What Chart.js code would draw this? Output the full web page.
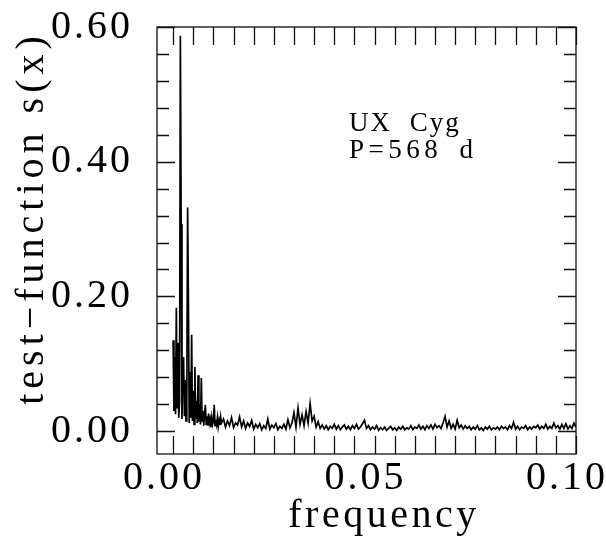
<!DOCTYPE html>
<html lang="en">
<head>
<meta charset="UTF-8">
<title>UX Cyg test-function</title>
<script src="https://cdn.jsdelivr.net/npm/chart.js"></script>
<style>
  html, body { margin: 0; padding: 0; background: #fff; }
</style>
</head>
<body>
<canvas id="spec" width="606" height="541"></canvas>
<script>
// low-frequency part, read every 0.0002
const lowStart = 0.0, lowStep = 0.0002;
const lowPower = [
  0.135, 0.030, 0.110, 0.025, 0.183, 0.035, 0.131, 0.020, 0.045, 0.587,
  0.307, 0.018, 0.095, 0.110, 0.022, 0.076, 0.015, 0.050, 0.332, 0.190,
  0.012, 0.088, 0.020, 0.143, 0.015, 0.060, 0.010, 0.095, 0.018, 0.045,
  0.012, 0.083, 0.014, 0.040, 0.010, 0.079, 0.015, 0.030, 0.008, 0.025,
  0.039, 0.010, 0.022, 0.008, 0.026, 0.012, 0.018, 0.006, 0.020, 0.010,
  0.015, 0.039, 0.008, 0.017, 0.010, 0.020, 0.007, 0.016, 0.009, 0.021,
  0.012
];
// rest of the range, read every 0.0005
const highStart = 0.0125, highStep = 0.0005;
const highPower = [
  0.018, 0.006, 0.015, 0.008, 0.020, 0.005, 0.012, 0.009, 0.021, 0.006,
  0.015, 0.004, 0.012, 0.007, 0.016, 0.003, 0.010, 0.005, 0.011, 0.002,
  0.008, 0.004, 0.018, 0.003, 0.009, 0.005, 0.011, 0.002, 0.007, 0.004,
  0.010, 0.003, 0.017, 0.005, 0.012, 0.027, 0.006, 0.034, 0.010, 0.024,
  0.008, 0.029, 0.012, 0.041, 0.015, 0.022, 0.006, 0.014, 0.004, 0.009,
  0.003, 0.008, 0.002, 0.007, 0.004, 0.010, 0.003, 0.008, 0.002, 0.006,
  0.009, 0.003, 0.007, 0.002, 0.008, 0.004, 0.010, 0.003, 0.006, 0.011,
  0.016, 0.004, 0.008, 0.002, 0.006, 0.003, 0.008, 0.001, 0.005, 0.002,
  0.006, 0.001, 0.004, 0.007, 0.002, 0.005, 0.001, 0.006, 0.003, 0.007,
  0.002, 0.005, 0.003, 0.008, 0.002, 0.006, 0.004, 0.009, 0.003, 0.007,
  0.002, 0.008, 0.004, 0.009, 0.003, 0.010, 0.005, 0.008, 0.004, 0.012,
  0.022, 0.006, 0.015, 0.004, 0.010, 0.003, 0.016, 0.005, 0.009, 0.003,
  0.008, 0.004, 0.007, 0.002, 0.006, 0.003, 0.008, 0.002, 0.005, 0.001,
  0.006, 0.003, 0.007, 0.002, 0.005, 0.003, 0.006, 0.002, 0.007, 0.004,
  0.006, 0.002, 0.008, 0.004, 0.013, 0.003, 0.007, 0.002, 0.006, 0.004,
  0.008, 0.002, 0.006, 0.003, 0.007, 0.005, 0.009, 0.003, 0.007, 0.004,
  0.010, 0.003, 0.007, 0.004, 0.012, 0.005, 0.008, 0.003, 0.010, 0.004,
  0.011, 0.003, 0.008, 0.004, 0.012, 0.006
];
const xTickValues = [0.00, 0.05, 0.10];
const yTickValues = [0.00, 0.20, 0.40, 0.60];
const noteLines = ['UX Cyg', 'P=568 d'];

const points = [];
lowPower.forEach((v, i) => points.push({ x: +(lowStart + i * lowStep).toFixed(5), y: v }));
highPower.forEach((v, i) => points.push({ x: +(highStart + i * highStep).toFixed(5), y: v }));

const serif = '"Liberation Serif", "DejaVu Serif", serif';

// frame, inward ticks on all four sides, titles and the note
const framePlugin = {
  id: 'frame',
  beforeDraw(chart) {
    // wider spacing for the tick numbers, like the original typesetting
    chart.ctx.letterSpacing = '3px';
  },
  afterDraw(chart) {
    const { ctx, chartArea: a, scales } = chart;
    const xs = scales.x, ys = scales.y;
    ctx.save();
    ctx.strokeStyle = '#111';
    ctx.lineWidth = 1.3;
    ctx.strokeRect(a.left, a.top, a.right - a.left, a.bottom - a.top);
    ctx.beginPath();
    for (let k = 0; k <= 20; k++) {
      const px = Math.round(xs.getPixelForValue(k * 0.005)) + 0.5;
      ctx.moveTo(px, a.bottom); ctx.lineTo(px, a.bottom - 18);
      ctx.moveTo(px, a.top); ctx.lineTo(px, a.top + 18);
    }
    for (let k = 0; k <= 15; k++) {
      const py = Math.round(ys.getPixelForValue(k * 0.04)) + 0.5;
      const len = k % 5 === 0 ? 18 : 12;
      ctx.moveTo(a.left, py); ctx.lineTo(a.left + len, py);
      ctx.moveTo(a.right, py); ctx.lineTo(a.right - len, py);
    }
    ctx.stroke();

    ctx.fillStyle = '#000';
    ctx.font = '40px ' + serif;
    ctx.letterSpacing = '3.5px';
    ctx.textAlign = 'center';
    ctx.textBaseline = 'alphabetic';
    ctx.fillText('frequency', 384, 527);

    ctx.save();
    ctx.translate(43, 218);
    ctx.rotate(-Math.PI / 2);
    ctx.letterSpacing = '5px';
    ctx.fillText('test\u2212function s(x)', 0, 0);
    ctx.restore();

    ctx.font = '27px ' + serif;
    ctx.textAlign = 'left';
    ctx.letterSpacing = '2px';
    ctx.wordSpacing = '9px';
    ctx.fillText(noteLines[0], 349, 131);
    ctx.letterSpacing = '4.5px';
    ctx.wordSpacing = '6px';
    ctx.fillText(noteLines[1], 349, 158);
    ctx.restore();
  }
};

new Chart(document.getElementById('spec'), {
  type: 'line',
  data: {
    datasets: [{
      data: points,
      borderColor: '#000',
      borderWidth: 1.7,
      pointRadius: 0,
      tension: 0,
      fill: false
    }]
  },
  options: {
    responsive: false,
    animation: false,
    parsing: false,
    layout: { padding: { left: 0, top: 27, right: 30, bottom: 0 } },
    plugins: { legend: { display: false }, tooltip: { enabled: false } },
    scales: {
      x: {
        type: 'linear',
        min: -0.004,
        max: 0.10,
        afterBuildTicks: s => { s.ticks = xTickValues.map(v => ({ value: v })); },
        afterFit: s => { s.height = 87; s.paddingLeft = 0; s.paddingRight = 0; },
        grid: { display: false, drawTicks: false },
        border: { display: false },
        ticks: {
          callback: v => v.toFixed(2),
          font: { family: serif, size: 40 },
          color: '#000',
          padding: 0,
          labelOffset: -9,
          maxRotation: 0,
          autoSkip: false
        }
      },
      y: {
        min: -0.034,
        max: 0.60,
        afterBuildTicks: s => { s.ticks = yTickValues.map(v => ({ value: v })); },
        afterFit: s => { s.width = 157; s.paddingTop = 0; s.paddingBottom = 0; },
        grid: { display: false, drawTicks: false },
        border: { display: false },
        ticks: {
          callback: v => v.toFixed(2),
          font: { family: serif, size: 40 },
          color: '#000',
          padding: 24
        }
      }
    }
  },
  plugins: [framePlugin]
});
</script>
</body>
</html>
